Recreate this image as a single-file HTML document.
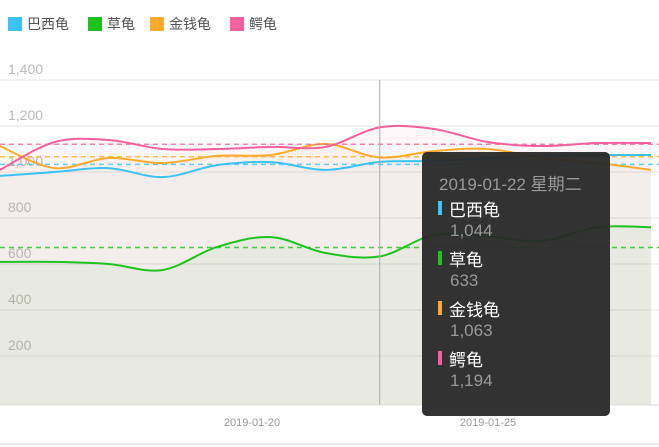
<!DOCTYPE html>
<html><head><meta charset="utf-8"><style>
body{margin:0;width:659px;height:447px;overflow:hidden;background:#fff;font-family:"Liberation Sans","Noto Sans CJK SC",sans-serif;}
#c{position:absolute;left:0;top:0}
.leg{position:absolute;top:14px;font-size:14px;color:#555;display:flex;align-items:center}
.leg i{display:inline-block;width:14px;height:14px;margin-right:5px}
#tip{position:absolute;left:422px;top:152px;width:188px;height:264px;background:rgba(40,40,40,0.95);border-radius:5px;color:#fff;font-size:17px}
#tip .d{position:absolute;left:17px;top:18px;color:#999}
.tn{position:absolute;left:27px;color:#fff}
.tv{position:absolute;left:28px;color:#999}
.tb{position:absolute;left:16px;width:4px;height:14px}
</style></head><body>
<svg id="c" width="659" height="447"></svg>
<div class="leg" style="left:8px"><i style="background:#3cc3f5"></i>巴西龟</div>
<div class="leg" style="left:88px"><i style="background:#1ec31e"></i>草龟</div>
<div class="leg" style="left:150px"><i style="background:#ffab2e"></i>金钱龟</div>
<div class="leg" style="left:230px"><i style="background:#f4619e"></i>鳄龟</div>
<div id="tip">
<div class="d">2019-01-22 星期二</div>
<div class="tb" style="top:49px;background:#3cc3f5"></div><div class="tn" style="top:44px">巴西龟</div><div class="tv" style="top:69px">1,044</div>
<div class="tb" style="top:99px;background:#1ec31e"></div><div class="tn" style="top:94px">草龟</div><div class="tv" style="top:119px">633</div>
<div class="tb" style="top:149px;background:#ffab2e"></div><div class="tn" style="top:144px">金钱龟</div><div class="tv" style="top:169px">1,063</div>
<div class="tb" style="top:199px;background:#f4619e"></div><div class="tn" style="top:194px">鳄龟</div><div class="tv" style="top:219px">1,194</div>
</div>
<script>
const categories=["2019-01-15","2019-01-16","2019-01-17","2019-01-18","2019-01-19","2019-01-20","2019-01-21","2019-01-22","2019-01-23","2019-01-24","2019-01-25","2019-01-26","2019-01-27"];
const brazil=[983,1000,1017,978,1030,1043,1009,1044,1048,1060,1072,1074,1074];
const grass=[609,609,600,574,674,717,648,633,726,720,700,760,760];
const gold=[1113,1017,1061,1039,1070,1074,1122,1063,1091,1100,1061,1040,1009];
const croc=[1009,1130,1139,1100,1100,1109,1109,1194,1187,1130,1113,1126,1126];
const yTicks=[200,400,600,800,1000,1200,1400];
const xLabels=["2019-01-20","2019-01-25"];
const NS="http://www.w3.org/2000/svg",svg=document.getElementById('c');
const X=i=>i*54.25, Y=v=>402-v*0.23;
function mk(t,a){const e=document.createElementNS(NS,t);for(const k in a)e.setAttribute(k,a[k]);svg.appendChild(e);return e;}
yTicks.forEach(v=>{
const l=mk('line',{x1:0,x2:659,y1:Y(v),y2:Y(v),stroke:'#e6e6e6'});


const t=mk('text',{x:8,y:Y(v)-6,fill:'#bbb','font-size':14});t.textContent=v.toLocaleString('en-US');


});
function path(d){const p=d.map((v,i)=>[X(i),Y(v)]);let s='M'+p[0];for(let i=0;i<p.length-1;i++){const p0=p[i-1]||p[i],p1=p[i],p2=p[i+1],p3=p[i+2]||p2;s+=` C${p1[0]+(p2[0]-p0[0])/6},${p1[1]+(p2[1]-p0[1])/6} ${p2[0]-(p3[0]-p1[0])/6},${p2[1]-(p3[1]-p1[1])/6} ${p2[0]},${p2[1]}`;}return s;}
const series=[[brazil,'#3cc3f5','brazil'],[grass,'#1ec31e','grass'],[gold,'#ffab2e','gold'],[croc,'#f4619e','croc']];
series.forEach(([d,c,n])=>{
const a=mk('path',{d:path(d)+` L${X(d.length-1)},405 L0,405 Z`,fill:c,'fill-opacity':0.06});


});
series.forEach(([d,c,n])=>{
const avg=d.reduce((a,b)=>a+b,0)/d.length;
const m=mk('line',{x1:0,x2:659,y1:Y(avg),y2:Y(avg),stroke:c,'stroke-dasharray':'5,4','stroke-width':1.5,opacity:0.8});


const l=mk('path',{d:path(d),fill:'none',stroke:c,'stroke-width':2});


});
const ch=mk('line',{x1:X(7),x2:X(7),y1:80,y2:405,stroke:'#aaa'});


const ax=mk('line',{x1:0,x2:659,y1:405,y2:405,stroke:'#ddd'});


xLabels.forEach((s,k)=>{
const t=mk('text',{x:[237,473][k]+15,y:426,fill:'#999','font-size':11,'text-anchor':'middle'});t.textContent=s;


});
const bl=mk('line',{x1:0,x2:659,y1:444,y2:444,stroke:'#ddd'});


</script>
</body></html>
